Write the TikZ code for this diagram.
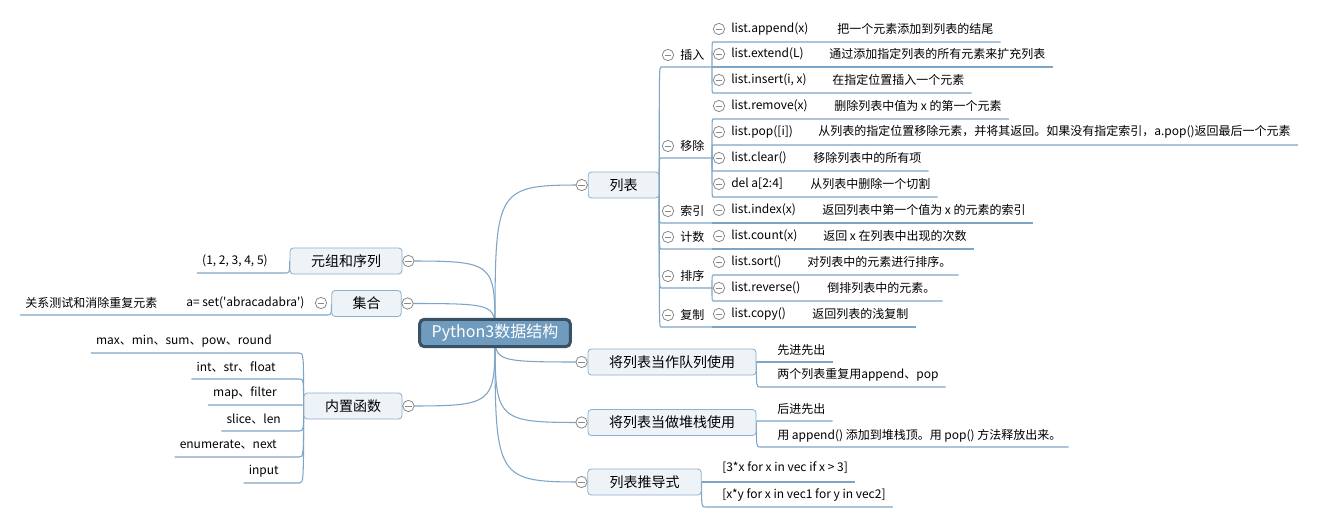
\documentclass[tikz,border=0pt]{standalone}
\usepackage{fontspec}
\setmainfont{Noto Sans CJK SC}
\usetikzlibrary{calc,backgrounds}
\definecolor{linkblue}{HTML}{7EA5C6}
\definecolor{boxfill}{HTML}{EEF3F8}
\definecolor{boxline}{HTML}{8CB0CE}
\definecolor{rootfill}{HTML}{6F9BBE}
\definecolor{rootline}{HTML}{3B5264}
\definecolor{foldgray}{HTML}{8A8A8A}
\tikzset{
    link/.style={linkblue,line width=0.8pt},
    branch/.style={to path={.. controls (\tikztostart |- \tikztotarget) .. (\tikztotarget)}},
    root/.style={draw=rootline,line width=2.3pt,fill=rootfill,rounded corners=3.5pt,text=white,
        font=\fontsize{12}{14}\selectfont,minimum width=113pt,minimum height=20.5pt},
    topic/.style={draw=boxline,line width=0.6pt,fill=boxfill,rounded corners=2.5pt,
        font=\fontsize{10.5}{12}\selectfont,minimum height=19.5pt},
    leaf/.style={inner xsep=0pt,inner ysep=1pt,font=\fontsize{9}{11}\selectfont},
    fold/.style={circle,draw=foldgray,fill=white,line width=0.6pt,minimum size=8.5pt,inner sep=0pt,
        path picture={\draw[foldgray,line width=0.6pt] ([xshift=-2.6pt]path picture bounding box.center)
            -- ([xshift=2.6pt]path picture bounding box.center);}},
}

\begin{document}
\begin{tikzpicture}[x=0.75pt,y=-0.75pt]
    \useasboundingbox (0,0) rectangle (1318,528);
    \begin{scope}[on background layer]
        \fill[white] (0,0) rectangle (1318,528);
    \end{scope}
    % main topics
    \node[root] (py) at (495,333) {Python3数据结构};
    \node[topic,minimum width=53pt] (lst) at (623.5,185) {列表};
    \node[topic,minimum width=126pt] (que) at (672,362) {将列表当作队列使用};
    \node[topic,minimum width=126pt] (stk) at (672,422.5) {将列表当做堆栈使用};
    \node[topic,minimum width=85pt] (cmp) at (644.5,482) {列表推导式};
    \node[topic,minimum width=84pt] (tup) at (346,261) {元组和序列};
    \node[topic,minimum width=52pt] (set) at (366.5,303.5) {集合};
    \node[topic,minimum width=73.5pt] (bif) at (353,406) {内置函数};
    \begin{scope}[on background layer]
        \foreach \n in {lst,que,stk,cmp} \draw[link] (py.center) to[branch] (\n.west);
        \foreach \n in {tup,set,bif} \draw[link] (py.center) to[branch] (\n.east);
    \end{scope}
    \foreach \n in {lst,que,stk,cmp} \node[fold] (\n-f) at ($(\n.west)+(-6,0)$) {};
    \foreach \n in {tup,set,bif} \node[fold] (\n-f) at ($(\n.east)+(6,0)$) {};

    % list methods, grouped
    \foreach \n/\lab/\y in {ins/插入/67, rem/移除/158, idx/索引/223, cnt/计数/249, srt/排序/288, cpy/复制/327}{
        \coordinate (\n-w) at (661,\y);
        \coordinate (\n-e) at (712,\y);
        \node[leaf,anchor=west] (\n) at (680,\y-12) {\lab};
        \node[fold] (\n-f) at (668,\y-12) {};
        \begin{scope}[on background layer]
            \draw[link] (lst.east) to[branch] (\n-w) -- (\n-e);
        \end{scope}
    }
    \foreach \i/\p/\y/\meth/\dx/\desc in {
        1/ins/29/list.append(x)/837/把一个元素添加到列表的结尾,
        2/ins/54/list.extend(L)/829/通过添加指定列表的所有元素来扩充列表,
        3/ins/80/{list.insert(i, x)}/832/在指定位置插入一个元素,
        4/rem/106/list.remove(x)/834/删除列表中值为 x 的第一个元素,
        5/rem/132/{list.pop([i])}/818/{从列表的指定位置移除元素，并将其返回。如果没有指定索引，a.pop()返回最后一个元素},
        6/rem/158/list.clear()/813/移除列表中的所有项,
        7/rem/184/{del a[2:4]}/810/从列表中删除一个切割,
        8/idx/210/list.index(x)/822/返回列表中第一个值为 x 的元素的索引,
        9/cnt/236/list.count(x)/823/返回 x 在列表中出现的次数,
        10/srt/262/list.sort()/807/对列表中的元素进行排序。,
        11/srt/288/list.reverse()/827/倒排列表中的元素。,
        12/cpy/314/list.copy()/812/返回列表的浅复制}{
        \node[leaf,anchor=west] (m\i) at (731,\y) {\meth};
        \node[leaf,anchor=west] (d\i) at (\dx,\y) {\desc};
        \node[fold] (m\i-f) at (719,\y) {};
        \coordinate (m\i-w) at (713,\y+13);
        \begin{scope}[on background layer]
            \draw[link] (\p-e) to[branch] (m\i-w) -- ($(m\i-w -| d\i.east)+(7,0)$);
        \end{scope}
    }

    % queue, stack, comprehension
    \foreach \n/\p/\x/\y/\ux/\uy/\lab in {
        q1/que/777/350/757/362/先进先出,
        q2/que/777/375/760/387/两个列表重复用append、pop,
        s1/stk/777/409/757/421/后进先出,
        s2/stk/777/436/760/447/{用 append() 添加到堆栈顶。用 pop() 方法释放出来。},
        c1/cmp/722/468/701/482/{[3*x for x in vec if x > 3]},
        c2/cmp/722/495/705/507/{[x*y for x in vec1 for y in vec2]}}{
        \node[leaf,anchor=west] (\n) at (\x,\y) {\lab};
        \coordinate (\n-w) at (\ux,\uy);
        \begin{scope}[on background layer]
            \draw[link] (\p.east) to[branch] (\n-w) -- ($(\n-w -| \n.east)+(7,0)$);
        \end{scope}
    }

    % left side
    \node[leaf,anchor=east] (tup1) at (268,261) {(1, 2, 3, 4, 5)};
    \coordinate (tup1-e) at (285,273);
    \node[leaf,anchor=west] (set1) at (186,303) {a= set(\textquotesingle abracadabra\textquotesingle)};
    \node[fold] (set1-f) at (321,303) {};
    \node[leaf,anchor=west] (set2) at (25,303) {关系测试和消除重复元素};
    \coordinate (set1-e) at (327,315);
    \begin{scope}[on background layer]
        \draw[link] (tup.west) to[branch] (tup1-e) -- ($(tup1-e -| tup1.west)+(-5,0)$);
        \draw[link] (set.west) to[branch] (set1-e) -- ($(set1-e -| set2.west)+(-5,0)$);
    \end{scope}
    \foreach \i/\x/\y/\lab in {1/272/341/max、min、sum、pow、round, 2/276/367/int、str、float,
        3/277/393/map、filter, 4/281/419/slice、len, 5/277/445/enumerate、next, 6/279/471/input}{
        \node[leaf,anchor=east] (bif\i) at (\x,\y) {\lab};
        \coordinate (bif\i-e) at (299,\y+12);
        \begin{scope}[on background layer]
            \draw[link] (bif.west) to[branch] (bif\i-e) -- ($(bif\i-e -| bif\i.west)+(-5,0)$);
        \end{scope}
    }
\end{tikzpicture}
\end{document}
